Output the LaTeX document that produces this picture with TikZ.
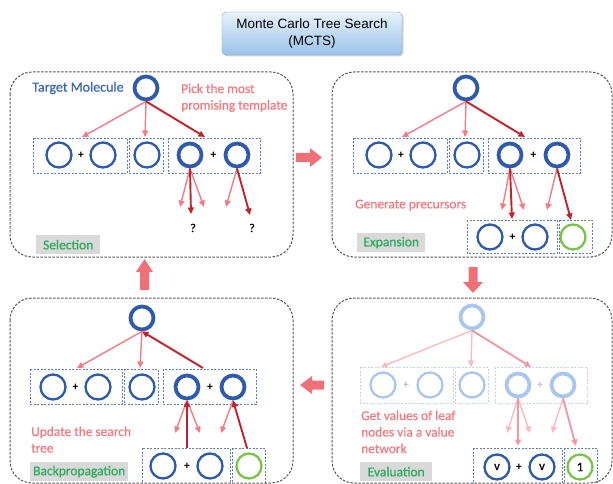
\documentclass[tikz,border=0pt]{standalone}
\usepackage{fontspec}
\setmainfont{Carlito}
\newfontfamily\heavy[FakeBold=0.8]{Carlito}
\newfontfamily\titlefont{Liberation Sans}
\usetikzlibrary{arrows.meta,shadows}
\definecolor{cblue}{HTML}{2E5AAC}
\definecolor{cfade}{HTML}{A9C6EC}
\definecolor{cbox}{HTML}{5B7FB5}
\definecolor{cboxf}{HTML}{C5D3E8}
\definecolor{cpink}{HTML}{F27C83}
\definecolor{cdark}{HTML}{C0232B}
\definecolor{cpinkf}{HTML}{F8BCC0}
\definecolor{cpinkm}{HTML}{EE9AA0}
\definecolor{cpinkT}{HTML}{F37A80}
\definecolor{ctextblue}{HTML}{3F68B8}
\definecolor{cgreenT}{HTML}{2DAA5E}
\definecolor{cgreen}{HTML}{7BC24A}
\definecolor{cgray}{HTML}{D9D9D9}
\definecolor{cpanel}{HTML}{555555}
\definecolor{cbig}{HTML}{F07078}
\definecolor{ctop}{HTML}{E8F2FC}
\definecolor{cbot}{HTML}{99C2EA}
\begin{document}
\begin{tikzpicture}[x=1pt,y=-1pt,
  mol/.style={circle,draw=cblue,line width=2.3pt,minimum size=25pt,inner sep=0pt,font=\heavy\fontsize{13}{13}\selectfont},
  selmol/.style={mol,line width=3.8pt,minimum size=23pt},
  grn/.style={mol,draw=cgreen},
  fmol/.style={mol,draw=cfade},
  fsel/.style={selmol,draw=cfade},
  plus/.style={font=\bfseries\fontsize{11.5}{11.5}\selectfont,inner sep=0pt},
  fplus/.style={plus,text=black!25},
  grp/.style={draw=cbox,dash pattern=on 2pt off 1.5pt,line width=0.8pt},
  fgrp/.style={grp,draw=cboxf},
  panel/.style={draw=cpanel,dash pattern=on 2.5pt off 1.5pt,line width=1pt,rounded corners=22pt},
  parr/.style={-{Triangle[length=6.5pt,width=6pt]},draw=cpink,line width=1.4pt},
  darr/.style={parr,draw=cdark,line width=1.9pt},
  farr/.style={parr,draw=cpinkf},
  marr/.style={darr,draw=cpinkm},
  lab/.style={fill=cgray,text=cgreenT,font=\heavy\fontsize{13.5}{15}\selectfont,inner sep=0pt,anchor=north west,minimum height=19pt},
  note/.style={text=cpinkT,font=\heavy\fontsize{13.4}{16.5}\selectfont,align=left,inner sep=0pt,anchor=north west},
  qm/.style={font=\heavy\fontsize{12}{12}\selectfont,inner sep=0pt},
  bigarr/.style={fill=cbig,draw=none}
]
\useasboundingbox (0,0) rectangle (613,484);

% title
\node[rectangle,rounded corners=4pt,minimum width=180pt,minimum height=43pt,
  top color=ctop,bottom color=cbot,draw=cbot!80!black,line width=0.3pt,
  drop shadow={shadow xshift=1.5pt,shadow yshift=-1.5pt,opacity=0.35},
  align=center,font=\titlefont\fontsize{13.5}{17}\selectfont] (title) at (312,33.5)
  {Monte Carlo Tree Search\\(MCTS)};

% panels
\draw[panel] (10,72) rectangle (293,257);
\draw[panel] (332,72) rectangle (612,257);
\draw[panel] (10,298) rectangle (293,483);
\draw[panel] (332,298) rectangle (612,483);

% big arrows
\fill[bigarr] (296,153) -- (310,153) -- (310,148) -- (322,157.5) -- (310,167) -- (310,162) -- (296,162) -- cycle;
\fill[bigarr] (468.5,267) -- (477.5,267) -- (477.5,282) -- (483,282) -- (473,293) -- (463,282) -- (468.5,282) -- cycle;
\fill[bigarr] (324,380.5) -- (312,380.5) -- (312,376) -- (300,385) -- (312,394) -- (312,389.5) -- (324,389.5) -- cycle;
\fill[bigarr] (140,290) -- (149,290) -- (149,272) -- (153,272) -- (144.5,259) -- (136,272) -- (140,272) -- cycle;

% ===== Panel 1: Selection =====
\draw[grp] (33,138) rectangle (127,173);
\draw[grp] (129,138) rectangle (163,173);
\draw[grp] (168,138) rectangle (260,173);
\node[selmol] (r1) at (146,88) {};
\node[mol] (a11) at (59,155) {};
\node[plus] (p11) at (81,155) {+};
\node[mol] (a12) at (103,155) {};
\node[mol] (b1) at (147,155) {};
\node[selmol] (c11) at (190,155) {};
\node[plus] (p12) at (213.5,155) {+};
\node[selmol] (c12) at (237,155) {};
\node[text=ctextblue,font=\heavy\fontsize{14}{16}\selectfont,inner sep=0pt] (tm) at (78,88) {Target Molecule};
\node[note] (pick) at (181,83.5) {Pick the most\\promising template};
\coordinate (t11) at (82,137);
\coordinate (t12) at (145,137);
\coordinate (t13) at (205,137);
\draw[parr] (r1.south) -- (t11);
\draw[parr] (r1.south) -- (t12);
\draw[darr] (r1.south) -- (t13);
\coordinate (u11) at (180,207);
\coordinate (u12) at (191,214);
\coordinate (u13) at (204,207);
\coordinate (u14) at (226,207);
\coordinate (u15) at (250,215);
\draw[parr] (c11.south) -- (u11);
\draw[parr] (c11.south) -- (u13);
\draw[darr] (c11.south) -- (u12);
\draw[parr] (c12.south) -- (u14);
\draw[darr] (c12.south) -- (u15);
\node[qm] (q1) at (193,228) {?};
\node[qm] (q2) at (252,228) {?};
\node[lab,minimum width=64pt] (sel) at (36,235) {Selection};

% ===== Panel 2: Expansion =====
\draw[grp] (353,138) rectangle (447,173);
\draw[grp] (449,138) rectangle (483,173);
\draw[grp] (488,138) rectangle (580,173);
\node[selmol] (r2) at (466,88) {};
\node[mol] (a21) at (379,155) {};
\node[plus] (p21) at (401,155) {+};
\node[mol] (a22) at (423,155) {};
\node[mol] (b2) at (467,155) {};
\node[selmol] (c21) at (510,155) {};
\node[plus] (p22) at (533.5,155) {+};
\node[selmol] (c22) at (557,155) {};
\coordinate (t21) at (402,137);
\coordinate (t22) at (465,137);
\coordinate (t23) at (525,137);
\draw[parr] (r2.south) -- (t21);
\draw[parr] (r2.south) -- (t22);
\draw[darr] (r2.south) -- (t23);
\draw[grp] (467,220) rectangle (557,253);
\draw[grp] (559,220) rectangle (592,253);
\node[mol] (d21) at (490,237) {};
\node[plus] (p23) at (512.5,237) {+};
\node[mol] (d22) at (535,237) {};
\node[grn] (g2) at (573,237) {};
\coordinate (u21) at (502,210);
\coordinate (u22) at (512,219);
\coordinate (u23) at (524,210);
\coordinate (u24) at (547,210);
\coordinate (u25) at (571,220);
\draw[parr] (c21.south) -- (u21);
\draw[parr] (c21.south) -- (u23);
\draw[darr] (c21.south) -- (u22);
\draw[parr] (c22.south) -- (u24);
\draw[darr] (c22.south) -- (u25);
\node[note] (gen) at (355,199.5) {Generate precursors};
\node[lab,minimum width=68pt] (exp) at (357,233) {Expansion};

% ===== Panel 3: Backpropagation =====
\draw[grp] (30,369) rectangle (122,404);
\draw[grp] (124,369) rectangle (158,404);
\draw[grp] (163,369) rectangle (256,404);
\node[selmol] (r3) at (142,318) {};
\node[mol] (a31) at (53,387) {};
\node[plus] (p31) at (75.5,387) {+};
\node[mol] (a32) at (98,387) {};
\node[mol] (b3) at (142,387) {};
\node[selmol] (c31) at (187,387) {};
\node[plus] (p32) at (210,387) {+};
\node[selmol] (c32) at (233,387) {};
\coordinate (t31) at (77,368);
\coordinate (t32) at (140,368);
\coordinate (t33) at (203,368);
\draw[parr] (r3.south) -- (t31);
\draw[parr] (r3.south) -- (t32);
\draw[darr] (t33) -- (r3.south);
\draw[grp] (142,448) rectangle (230,484);
\draw[grp] (232,448) rectangle (265,484);
\node[mol] (d31) at (163,466) {};
\node[plus] (p33) at (187,466) {+};
\node[mol] (d32) at (210,466) {};
\node[grn] (g3) at (249,466) {};
\coordinate (u31) at (175,433);
\coordinate (u32) at (187,448);
\coordinate (u33) at (200,433);
\coordinate (u34) at (221,433);
\coordinate (u35) at (247,448);
\draw[parr] (c31.south) -- (u31);
\draw[parr] (c31.south) -- (u33);
\draw[darr] (u32) -- (c31.south);
\draw[parr] (c32.south) -- (u34);
\draw[darr] (u35) -- (c32.south);
\node[note] (upd) at (31,426.5) {Update the search\\tree};
\node[lab,minimum width=98pt] (bp) at (30,462) {Backpropagation};

% ===== Panel 4: Evaluation =====
\draw[fgrp] (360,367) rectangle (453,403);
\draw[fgrp] (455,367) rectangle (488,403);
\draw[fgrp] (495,367) rectangle (587,403);
\node[fsel] (r4) at (472,317) {};
\node[fmol] (a41) at (383,385) {};
\node[fplus] (p41) at (406,385) {+};
\node[fmol] (a42) at (430,385) {};
\node[fmol] (b4) at (472,385) {};
\node[fsel] (c41) at (518,385) {};
\node[fplus] (p42) at (540,385) {+};
\node[fsel] (c42) at (563,385) {};
\coordinate (t41) at (381,367);
\coordinate (t42) at (471,367);
\coordinate (t43) at (531,367);
\draw[farr] (r4.south) -- (t41);
\draw[farr] (r4.south) -- (t42);
\draw[marr] (r4.south) -- (t43);
\draw[grp] (473,448) rectangle (562,484);
\draw[grp] (564,448) rectangle (597,484);
\node[mol] (d41) at (497,467) {v};
\node[plus] (p43) at (519,467) {+};
\node[mol] (d42) at (542,467) {v};
\node[grn] (g4) at (580,467) {1};
\coordinate (u41) at (507,433);
\coordinate (u42) at (518,446);
\coordinate (u43) at (530,433);
\coordinate (u44) at (552,433);
\coordinate (u45) at (576,446);
\draw[farr] (c41.south) -- (u41);
\draw[farr] (c41.south) -- (u43);
\draw[marr] (c41.south) -- (u42);
\draw[farr] (c42.south) -- (u44);
\draw[marr] (c42.south) -- (u45);
\node[note] (getv) at (361,410.5) {Get values of leaf\\nodes via a value\\network};
\node[lab,minimum width=72pt] (ev) at (360,462) {Evaluation};
\end{tikzpicture}
\end{document}
